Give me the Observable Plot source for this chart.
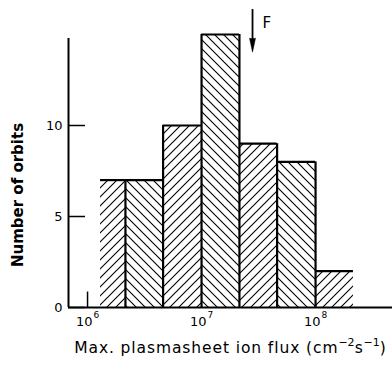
<!DOCTYPE html>
<html>
<head>
<meta charset="utf-8">
<script src="https://cdn.jsdelivr.net/npm/d3@7"></script>
<script src="https://cdn.jsdelivr.net/npm/@observablehq/plot@0.6"></script>
<style>
  html, body { margin: 0; padding: 0; background: #fff; }
  #chart svg { display: block; }
</style>
</head>
<body>
<div id="chart"></div>
<script>
// ---- data ----
const binLow   = [1.3e6, 2.15e6, 4.6e6, 1e7, 2.15e7, 4.6e7, 1e8];
const binHigh  = [2.15e6, 4.6e6, 1e7, 2.15e7, 4.6e7, 1e8, 2.15e8];
const counts   = [7, 7, 10, 15, 9, 8, 2];
const hatch    = ["/", "\\", "/", "\\", "/", "\\", "/"];
const yTicks   = [0, 5, 10];
const xTicks   = [1e6, 1e7, 1e8];
const xTickBase = "10";
const xTickExponents = ["6", "7", "8"];
const fluxF    = 2.8e7;
const markLabel = "F";
// axis title pieces: [text, isSuperscript]
const xLabelParts = [["Max. plasmasheet ion flux (cm", false], ["−2", true], ["s", false], ["−1", true], [")", false]];
const yLabel = "Number of orbits";

// ---- derived tables ----
const bins = counts.map((c, i) => ({lo: binLow[i], hi: binHigh[i], count: c, hatch: hatch[i]}));
const dividers = binHigh.slice(0, -1).map((x, i) => ({x, top: Math.max(counts[i], counts[i + 1])}));
const xLabel = xLabelParts.map(p => p[0]).join("");

const xDomain = [10 ** 5.833, 10 ** 8.675];
const yDomain = [0, 14.78];

const font = "DejaVu Sans, sans-serif";

const plot = Plot.plot({
  width: 392,
  height: 366,
  marginLeft: 68,
  marginRight: 0,
  marginTop: 38,
  marginBottom: 59,
  style: {fontFamily: font, background: "#fff", color: "#000", overflow: "visible"},
  x: {type: "log", domain: xDomain, axis: null},
  y: {domain: yDomain, axis: null},
  marks: [
    // hatched fills
    Plot.rect(bins.filter(d => d.hatch === "/"), {x1: "lo", x2: "hi", y1: 0, y2: "count", fill: "url(#hatchF)"}),
    Plot.rect(bins.filter(d => d.hatch === "\\"), {x1: "lo", x2: "hi", y1: 0, y2: "count", fill: "url(#hatchB)"}),
    // bar tops
    Plot.ruleY(bins, {y: "count", x1: "lo", x2: "hi", stroke: "#000", strokeWidth: 2.2}),
    // dividers between bins
    Plot.ruleX(dividers, {x: "x", y1: 0, y2: "top", stroke: "#000", strokeWidth: 2.2}),
    // y axis line
    Plot.ruleX([xDomain[0]], {y1: 0, y2: yDomain[1], stroke: "#000", strokeWidth: 2}),
    // baseline
    Plot.ruleY([0], {stroke: "#000", strokeWidth: 2}),
    // inward y ticks
    Plot.ruleY(yTicks, {x1: xDomain[0], x2: xDomain[0] * 10 ** (17 / 114), stroke: "#000", strokeWidth: 1.5}),
    // the single x tick at 10^6
    Plot.ruleX([xTicks[0]], {y1: 0, y2: 0.85, stroke: "#000", strokeWidth: 1.5}),
    // y tick labels
    Plot.text(yTicks, {x: xDomain[0], y: d => d, text: d => String(d), dx: -6, textAnchor: "end", fontSize: 13}),
    // x tick labels: "10" plus superscript exponent
    Plot.text(xTicks, {x: d => d, y: 0, text: () => xTickBase, dx: 5, dy: 14, textAnchor: "end", fontSize: 13}),
    Plot.text(xTicks, {x: d => d, y: 0, text: (d, i) => xTickExponents[i], dx: 6, dy: 8, textAnchor: "start", fontSize: 9}),
    // axis titles
    Plot.text([xLabel], {frameAnchor: "bottom", text: d => d, dy: 45, dx: 0, fontSize: 15.5, textAnchor: "middle"}),
    Plot.text([yLabel], {frameAnchor: "left", text: d => d, dx: -50, dy: 22, rotate: -90, fontSize: 15, fontWeight: "bold", textAnchor: "middle"}),
    // arrow F
    Plot.ruleX([fluxF], {y1: 16.37, y2: 14.6, stroke: "#000", strokeWidth: 1.8}),
    Plot.vector([fluxF], {x: d => d, y: 14.8, length: 14, r: 3, rotate: 180, shape: "spike", anchor: "start", fill: "#000", stroke: "#000", strokeWidth: 0.5}),
    Plot.text([markLabel], {x: fluxF, y: 15.6, text: d => d, dx: 10, fontSize: 15, textAnchor: "start"})
  ]
});

const defs = d3.select(plot).insert("defs", ":first-child");
defs.html(`
  <pattern id="hatchF" patternUnits="userSpaceOnUse" width="9" height="9">
    <path d="M0,9 l9,-9 M-2.25,2.25 l4.5,-4.5 M6.75,11.25 l4.5,-4.5" stroke="#000" stroke-width="1.1"/>
  </pattern>
  <pattern id="hatchB" patternUnits="userSpaceOnUse" width="9" height="9">
    <path d="M0,0 l9,9 M-2.25,6.75 l4.5,4.5 M6.75,-2.25 l4.5,4.5" stroke="#000" stroke-width="1.1"/>
  </pattern>`);

// rich text for the x-axis title: superscripts as tspans
d3.select(plot).selectAll("text").filter(function() { return this.textContent === xLabel; }).each(function() {
  const t = d3.select(this).text("").attr("letter-spacing", "0.9");
  xLabelParts.forEach(([s, sup], i) => {
    const ts = t.append("tspan").text(s);
    if (sup) ts.attr("font-size", 11).attr("dy", -7).attr("letter-spacing", "0");
    else if (i > 0 && xLabelParts[i - 1][1]) ts.attr("dy", 7);
  });
});

document.getElementById("chart").appendChild(plot);
</script>
</body>
</html>
